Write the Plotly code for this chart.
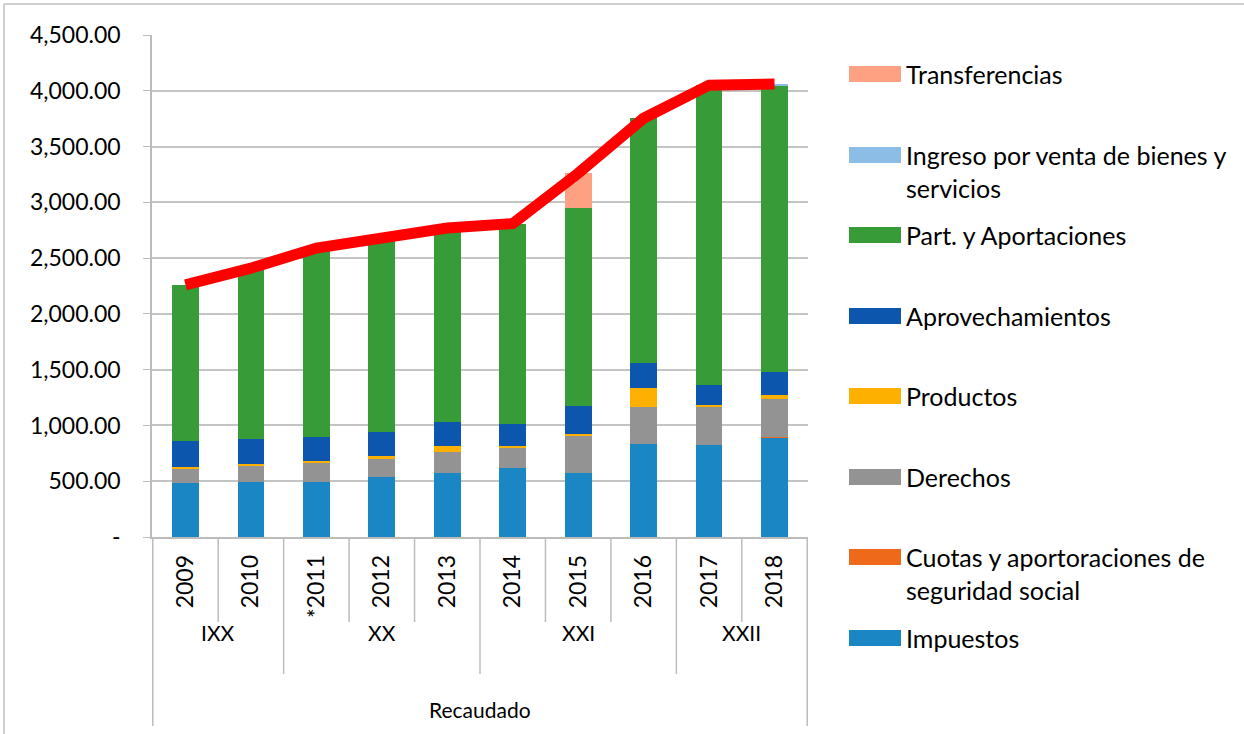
import plotly.graph_objects as go

# ---------------- data ----------------
years = ["2009", "2010", "*2011", "2012", "2013", "2014", "2015", "2016", "2017", "2018"]
groups = ["IXX", "XX", "XXI", "XXII"]
group_sizes = [2, 3, 3, 2]
outer_label = "Recaudado"

impuestos = [484, 493, 495, 537, 573, 618, 573, 833, 824, 890]
cuotas = [0, 0, 0, 0, 0, 0, 0, 0, 0, 6]
derechos = [125, 146, 168, 162, 189, 188, 341, 332, 341, 341]
productos = [18, 18, 18, 27, 53, 9, 9, 170, 18, 35]
aprovechamientos = [233, 221, 215, 215, 215, 197, 251, 224, 179, 206]
part_aportaciones = [1400, 1532, 1694, 1739, 1740, 1798, 1774, 2195, 2688, 2572]
venta_bienes = [0, 0, 0, 0, 0, 0, 0, 0, 0, 10]
transferencias = [0, 0, 0, 0, 0, 0, 312, 0, 0, 0]
total = [2260, 2410, 2590, 2680, 2770, 2810, 3260, 3754, 4050, 4060]

y_tickvals = [0, 500, 1000, 1500, 2000, 2500, 3000, 3500, 4000, 4500]
y_ticktext = ["-", "500.00", "1,000.00", "1,500.00", "2,000.00", "2,500.00",
              "3,000.00", "3,500.00", "4,000.00", "4,500.00"]

series = [
    ("Impuestos", impuestos, "#1a86c4"),
    ("Cuotas y aportoraciones de<br>seguridad social", cuotas, "#ee6a1a"),
    ("Derechos", derechos, "#939393"),
    ("Productos", productos, "#fdb000"),
    ("Aprovechamientos", aprovechamientos, "#0d56ad"),
    ("Part. y Aportaciones", part_aportaciones, "#379c37"),
    ("Ingreso por venta de bienes y<br>servicios", venta_bienes, "#8cbde6"),
    ("Transferencias", transferencias, "#fda182"),
]

FONT = "Lato"
FS = 23
FS_LEG = 25
FS_GRP = 21

# plot area in pixels
L, R, T, B = 152, 808, 35, 537
W, H = 1244, 734


def pxx(px):
    return (px - L) / (R - L)


def pxy(py):
    return (B - py) / (B - T)


fig = go.Figure()
for name, vals, col in series:
    fig.add_trace(go.Bar(x=years, y=vals, name=name.replace("<br>", " "),
                         marker=dict(color=col, line=dict(width=0)),
                         showlegend=False))
fig.add_trace(go.Scatter(x=years, y=total, mode="lines", name="Total",
                         line=dict(color="#ff0000", width=11),
                         showlegend=False))

shapes = []
annotations = []

# category separators
bounds = [-0.5]
for s in group_sizes:
    bounds.append(bounds[-1] + s)
group_bounds = set(bounds)
for i in range(len(years) + 1):
    xb = i - 0.5
    if xb in (bounds[0], bounds[-1]):
        yb = 726
    elif xb in group_bounds:
        yb = 674
    else:
        yb = 622
    shapes.append(dict(type="line", xref="x", yref="paper", x0=xb, x1=xb,
                       y0=0, y1=pxy(yb), line=dict(color="#bcbcbc", width=1.5)))

for g, a, b in zip(groups, bounds[:-1], bounds[1:]):
    annotations.append(dict(text=g, xref="x", yref="paper", x=(a + b) / 2,
                            y=pxy(632), showarrow=False, xanchor="center",
                            yanchor="middle", font=dict(family=FONT, size=FS_GRP, color="#000")))
annotations.append(dict(text=outer_label, xref="x", yref="paper",
                        x=(bounds[0] + bounds[-1]) / 2, y=pxy(709), showarrow=False,
                        xanchor="center", yanchor="middle",
                        font=dict(family=FONT, size=FS_GRP, color="#000")))

# chart border (left & top)
shapes.append(dict(type="line", xref="paper", yref="paper", x0=pxx(4), x1=pxx(4),
                   y0=pxy(4), y1=pxy(734), line=dict(color="#c0c0c0", width=1.5)))
shapes.append(dict(type="line", xref="paper", yref="paper", x0=pxx(4), x1=pxx(1244),
                   y0=pxy(4), y1=pxy(4), line=dict(color="#c0c0c0", width=1.5)))

# custom legend
legend_rows = [
    ("Transferencias", "#fda182", 74),
    ("Ingreso por venta de bienes y<br>servicios", "#8cbde6", 155),
    ("Part. y Aportaciones", "#379c37", 235),
    ("Aprovechamientos", "#0d56ad", 316),
    ("Productos", "#fdb000", 396),
    ("Derechos", "#939393", 477),
    ("Cuotas y aportoraciones de<br>seguridad social", "#ee6a1a", 557),
    ("Impuestos", "#1a86c4", 638),
]
for text, col, yc in legend_rows:
    shapes.append(dict(type="rect", xref="paper", yref="paper", x0=pxx(849), x1=pxx(901),
                       y0=pxy(yc - 8), y1=pxy(yc + 8), fillcolor=col, line=dict(width=0)))
    if "<br>" in text:
        annotations.append(dict(text=text, xref="paper", yref="paper", x=pxx(904),
                                y=pxy(yc - 17), showarrow=False, xanchor="left",
                                yanchor="top", align="left",
                                font=dict(family=FONT, size=FS_LEG, color="#000")))
    else:
        annotations.append(dict(text=text, xref="paper", yref="paper", x=pxx(904),
                                y=pxy(yc), showarrow=False, xanchor="left",
                                yanchor="middle", align="left",
                                font=dict(family=FONT, size=FS_LEG, color="#000")))

fig.update_layout(
    width=W, height=H,
    margin=dict(l=L, r=W - R, t=T, b=H - B, pad=0),
    barmode="stack", bargap=0.59,
    plot_bgcolor="white", paper_bgcolor="white",
    shapes=shapes, annotations=annotations,
    font=dict(family=FONT, size=FS, color="#000"),
    xaxis=dict(type="category", tickangle=-90, showline=True, linecolor="#bcbcbc",
               linewidth=1.5, ticks="", showgrid=False, ticklabelstandoff=7,
               tickfont=dict(family=FONT, size=FS, color="#000"), fixedrange=True),
    yaxis=dict(range=[0, 4500], tickvals=y_tickvals, ticktext=y_ticktext,
               showline=True, linecolor="#bcbcbc", linewidth=1.5,
               ticks="outside", ticklen=7, tickcolor="#bcbcbc",
               showgrid=True, gridcolor="#c4c4c4", gridwidth=2,
               ticklabelstandoff=18, zeroline=False,
               tickfont=dict(family=FONT, size=FS, color="#000")),
)

fig.write_html("out.html", config={"displayModeBar": False},
               post_script="document.body.style.margin='0';document.body.style.overflow='hidden';")
